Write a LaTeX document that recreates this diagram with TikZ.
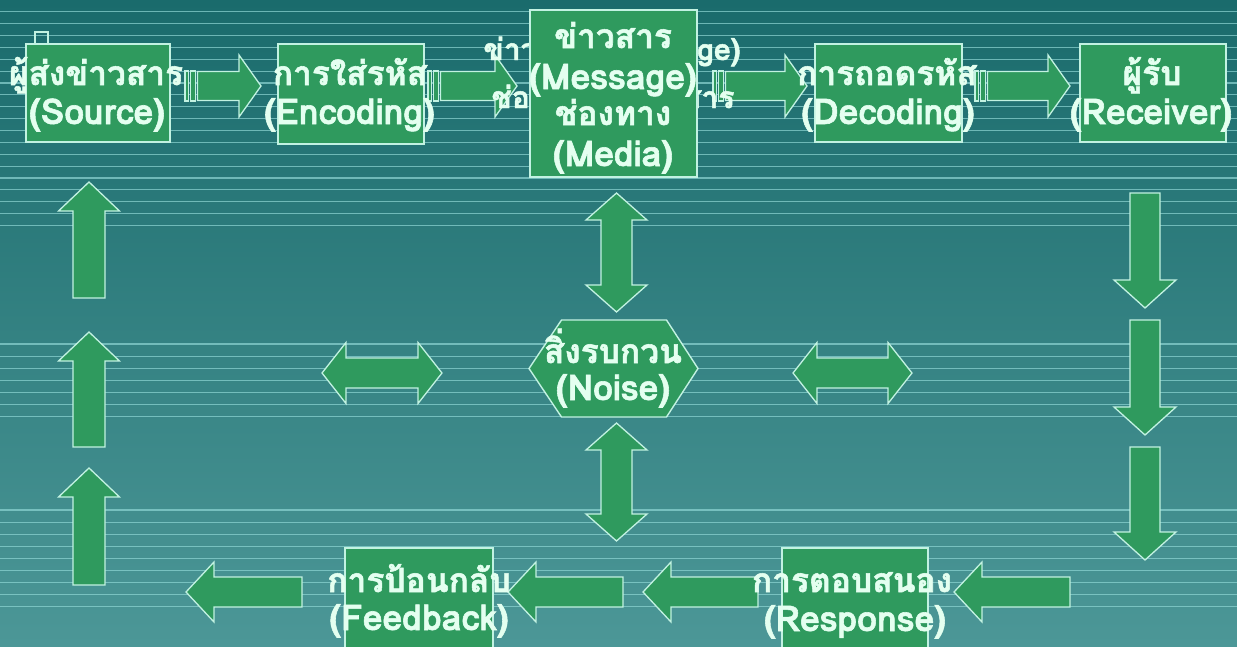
\documentclass[tikz,border=0pt]{standalone}
\usepackage{fontspec}
\newfontfamily\thaifont[Script=Thai, FakeBold=1.6]{Loma}
\definecolor{bgtop}{HTML}{1A6B6C}
\definecolor{bgbot}{HTML}{4C9797}
\definecolor{boxgreen}{HTML}{2F9A5E}
\definecolor{edgecol}{HTML}{C2F2E2}
\definecolor{txtcol}{HTML}{E4FFF0}
\definecolor{stripecol}{HTML}{8ED6D4}
\tikzset{
  boxnode/.style={draw=edgecol, fill=boxgreen, line width=1.4pt, inner sep=0pt},
  lbl/.style={text=txtcol, font=\thaifont\bfseries\fontsize{33.5}{38}\selectfont, inner sep=0pt, anchor=base},
  lblen/.style={text=txtcol, font=\thaifont\bfseries\fontsize{35.5}{40}\selectfont, inner sep=0pt, anchor=base},
  hiddenlbl/.style={text=txtcol, font=\thaifont\bfseries\fontsize{30}{34}\selectfont, inner sep=0pt, anchor=base},
  arr/.style={draw=edgecol, fill=boxgreen, line width=1.3pt, line join=miter},
  stripeline/.style={draw=stripecol, line width=1.1pt, opacity=0.7},
}
% angle, x, y, length, shaft width, head width, head length
\newcommand{\blkarrow}[7]{\draw[arr, shift={(#2,#3)}, rotate=#1] (0,{-#5/2}) -- ({#4-#7},{-#5/2}) -- ({#4-#7},{-#6/2}) -- (#4,0) -- ({#4-#7},{#6/2}) -- ({#4-#7},{#5/2}) -- (0,{#5/2}) -- cycle;}
\newcommand{\dblarrow}[7]{\draw[arr, shift={(#2,#3)}, rotate=#1] (0,0) -- (#7,{-#6/2}) -- (#7,{-#5/2}) -- ({#4-#7},{-#5/2}) -- ({#4-#7},{-#6/2}) -- (#4,0) -- ({#4-#7},{#6/2}) -- ({#4-#7},{#5/2}) -- (#7,{#5/2}) -- (#7,{#6/2}) -- cycle;}
% tail x, tip x, y
\newcommand{\striparrow}[3]{%
  \draw[arr] (#1,{#3-15}) rectangle ({#1+3.5},{#3+15});
  \draw[arr] ({#1+5.5},{#3-15}) rectangle ({#1+10.5},{#3+15});
  \blkarrow{0}{#1+12.5}{#3}{#2-#1-12.5}{29}{62}{22}}
\begin{document}
\begin{tikzpicture}[x=1pt,y=-1pt]
\useasboundingbox (0,0) rectangle (1237,646);
\shade[top color=bgtop, bottom color=bgbot] (0,0) rectangle (1237,646);
% background stripes
\foreach \k in {0,...,18} \draw[stripeline] (0,{11.7+11.88*\k}) -- (1237,{11.7+11.88*\k});
\foreach \k in {0,...,6} \draw[stripeline] (0,{344+12.15*\k}) -- (1237,{344+12.15*\k});
\foreach \k in {0,...,8} \draw[stripeline] (0,{510+12.1*\k}) -- (1237,{510+12.1*\k});

% top row arrows
\striparrow{185}{261}{86}
\striparrow{428}{517}{86}
\striparrow{713}{807}{86}
\striparrow{975}{1070}{86}

% right column (down)
\blkarrow{-90}{1145}{193}{115}{30}{62}{28}
\blkarrow{-90}{1145}{320}{115}{30}{62}{28}
\blkarrow{-90}{1145}{447}{113}{30}{62}{28}

% left column (up)
\blkarrow{90}{89}{298}{116}{32}{61}{29}
\blkarrow{90}{89}{447}{115}{32}{61}{29}
\blkarrow{90}{89}{585}{117}{32}{61}{29}

% bottom row (left)
\blkarrow{180}{1070}{592}{116}{30}{60}{28}
\blkarrow{180}{758}{592}{115}{30}{60}{28}
\blkarrow{180}{623}{592}{115}{30}{60}{28}
\blkarrow{180}{302}{592}{116}{30}{60}{28}

% double arrows around noise
\dblarrow{-90}{616.5}{193}{119}{31}{61}{27}
\dblarrow{-90}{616.5}{423}{118}{31}{61}{27}
\dblarrow{0}{322}{373}{120}{30}{61}{24}
\dblarrow{0}{793}{373}{119}{30}{61}{24}

% small placeholder square
\draw[draw=edgecol, line width=1.2pt] (35,32) rectangle (48,44);

% boxes
\node[boxnode, minimum width=144pt, minimum height=98pt] (src) at (98,93) {};
\node[boxnode, minimum width=146pt, minimum height=100pt] (enc) at (351,94) {};
\node[hiddenlbl] (hidA) at (612,60) {ข่าวสาร (Message)};
\node[hiddenlbl] (hidB) at (613,108) {ช่องทางการสื่อสาร};
\node[boxnode, minimum width=167pt, minimum height=167pt] (msg) at (613.5,93.5) {};
\node[boxnode, minimum width=147pt, minimum height=98pt] (dec) at (888.5,93) {};
\node[boxnode, minimum width=146pt, minimum height=98pt] (rcv) at (1153,93) {};
\node[boxnode, minimum width=148pt, minimum height=102pt] (fb) at (419,599) {};
\node[boxnode, minimum width=146pt, minimum height=102pt] (rsp) at (855,599) {};
\coordinate (noise) at (613.5,368.5);
\draw[boxnode] ([xshift=-84.5pt]noise) -- ([xshift=-52pt,yshift=48.5pt]noise) -- ([xshift=53pt,yshift=48.5pt]noise) -- ([xshift=84.5pt]noise) -- ([xshift=53pt,yshift=-48.5pt]noise) -- ([xshift=-52pt,yshift=-48.5pt]noise) -- cycle;

% labels
\node[lbl] (srcA) at (96,85) {ผู้ส่งข่าวสาร};
\node[lblen] (srcB) at (97,124) {(Source)};
\node[lbl] (encA) at (350,85) {การใส่รหัส};
\node[lblen] (encB) at (349.5,124) {(Encoding)};
\node[lbl] (msgA) at (613,48) {ข่าวสาร};
\node[lblen] (msgB) at (613,89) {(Message)};
\node[lbl] (msgC) at (613,125) {ช่องทาง};
\node[lblen] (msgD) at (613,166) {(Media)};
\node[lbl] (decA) at (887,85) {การถอดรหัส};
\node[lblen] (decB) at (888,124) {(Decoding)};
\node[lbl] (rcvA) at (1152,85) {ผู้รับ};
\node[lblen] (rcvB) at (1151,124) {(Receiver)};
\node[lbl] (noiA) at (613,363) {สิ่งรบกวน};
\node[lblen] (noiB) at (613,400) {(Noise)};
\node[lbl] (fbA) at (419,592) {การป้อนกลับ};
\node[lblen] (fbB) at (419,630) {(Feedback)};
\node[lbl] (rspA) at (852,592) {การตอบสนอง};
\node[lblen] (rspB) at (855,631) {(Response)};
\end{tikzpicture}
\end{document}
